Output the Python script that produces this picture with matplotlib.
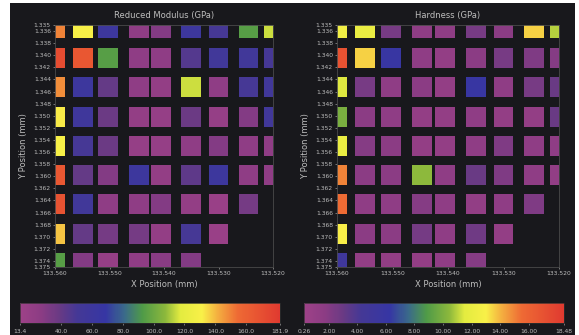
import numpy as np
import matplotlib
matplotlib.use("Agg")
import matplotlib.pyplot as plt
from matplotlib.colors import LinearSegmentedColormap, Normalize
from matplotlib.patches import Rectangle
from matplotlib.cm import ScalarMappable

# indent positions (mm)
x_pos = [133.5600, 133.5549, 133.5503, 133.5446, 133.5405, 133.5350, 133.5300, 133.5245, 133.5199]
y_pos = [1.3355, 1.3405, 1.3452, 1.3502, 1.3550, 1.3598, 1.3646, 1.3695, 1.3743]

nan = np.nan
# rows top -> bottom, columns left -> right
modulus = [
    [150, 130, 60, 25, 30, 60, 50, 95, 115],
    [172, 165, 95, 25, 25, 45, 55, 55, 50],
    [148, 60, 40, 25, 22, 115, 25, 50, 55],
    [132, 58, 38, 22, 20, 38, 20, 30, 55],
    [130, 50, 38, 20, 20, 25, 30, 25, 25],
    [165, 40, 30, 60, 22, 42, 60, 25, 25],
    [168, 55, 25, 25, 30, 22, 18, 35, nan],
    [138, 40, 35, 35, 22, 50, 18, nan, nan],
    [95, 30, 20, 25, 28, 30, nan, nan, nan],
]
hardness = [
    [12.5, 12.0, 2.5, 1.5, 1.5, 2.5, 1.8, 13.5, 11.0],
    [17.0, 13.5, 6.0, 1.5, 1.2, 1.8, 2.5, 2.2, 2.0],
    [11.5, 2.5, 1.5, 1.8, 1.2, 6.0, 1.5, 2.5, 3.0],
    [10.0, 1.8, 1.5, 1.2, 1.2, 1.5, 1.2, 1.2, 3.0],
    [12.0, 2.0, 1.8, 1.2, 1.2, 1.5, 2.2, 1.5, 1.5],
    [15.0, 1.8, 1.8, 10.5, 1.5, 3.0, 2.2, 1.5, 1.3],
    [15.5, 1.5, 1.5, 2.0, 1.5, 1.3, 1.5, 2.2, nan],
    [13.0, 1.8, 1.8, 2.6, 1.5, 2.8, 1.2, nan, nan],
    [5.0, 1.3, 1.3, 1.2, 1.5, 2.0, nan, nan, nan],
]

mod_range = (13.4, 181.9)
hard_range = (0.26, 18.48)
mod_ticks = [13.4, 40, 60, 80, 100, 120, 140, 160, 181.9]
mod_labels = ["13.4", "40.0", "60.0", "80.0", "100.0", "120.0", "140.0", "160.0", "181.9"]
hard_ticks = [0.26, 2, 4, 6, 8, 10, 12, 14, 16, 18.48]
hard_labels = ["0.26", "2.00", "4.00", "6.00", "8.00", "10.00", "12.00", "14.00", "16.00", "18.48"]

x_ticks = [133.560, 133.550, 133.540, 133.530, 133.520]
y_ticks = [1.335] + [round(1.336 + 0.002 * i, 3) for i in range(20)] + [1.375]

BG = "#18181c"
TXT = "#bdbdbd"

cmap = LinearSegmentedColormap.from_list("nano", [
    (0.00, "#9e4288"), (0.08, "#8c3c84"), (0.15, "#683a84"), (0.22, "#443896"),
    (0.33, "#3636a4"), (0.40, "#3a6a8a"), (0.47, "#4f9a48"), (0.56, "#8cb83c"),
    (0.62, "#e4ec40"), (0.70, "#f8f048"), (0.76, "#f4b040"), (0.84, "#ee6a34"),
    (1.00, "#e03a30"),
])


def draw_map(ax, values, vrange, title):
    norm = Normalize(*vrange)
    w, h = 0.0036, 0.0033
    for i, y in enumerate(y_pos):
        for j, x in enumerate(x_pos):
            v = values[i][j]
            if np.isnan(v):
                continue
            ax.add_patch(Rectangle((x + w / 2, y - h / 2), -w, h,
                                   facecolor=cmap(norm(v)), edgecolor="none"))
    ax.set_facecolor(BG)
    ax.set_xlim(133.560, 133.520)
    ax.set_ylim(1.375, 1.335)
    ax.set_xticks(x_ticks)
    ax.set_xticklabels([f"{t:.3f}" for t in x_ticks])
    ax.set_yticks(y_ticks)
    ax.set_yticklabels([f"{t:.3f}" for t in y_ticks])
    ax.tick_params(colors=TXT, labelsize=4.3, length=1.5, width=0.4, pad=1.5)
    for s in ax.spines.values():
        s.set_color("#4a4a4a")
        s.set_linewidth(0.6)
    ax.set_title(title, color=TXT, fontsize=6, pad=5)
    ax.set_xlabel("X Position (mm)", color=TXT, fontsize=6, labelpad=3)
    ax.set_ylabel("Y Position (mm)", color=TXT, fontsize=6, labelpad=4)


def draw_bar(fig, rect, vrange, ticks, labels):
    cax = fig.add_axes(rect)
    sm = ScalarMappable(norm=Normalize(*vrange), cmap=cmap)
    cb = fig.colorbar(sm, cax=cax, orientation="horizontal")
    cb.set_ticks(ticks)
    cb.set_ticklabels(labels)
    cb.outline.set_edgecolor("#303030")
    cb.outline.set_linewidth(0.5)
    cax.tick_params(colors=TXT, labelsize=4.3, length=1.5, width=0.4, pad=3)


fig = plt.figure(figsize=(5.79, 3.35), dpi=100)
fig.patch.set_facecolor("white")
fig.patches.append(Rectangle((10 / 579, 0), 565 / 579, 332 / 335,
                             transform=fig.transFigure, facecolor=BG,
                             edgecolor="none", zorder=-1))

ax1 = fig.add_axes([55 / 579, 68 / 335, 218 / 579, 242 / 335])
ax2 = fig.add_axes([337 / 579, 68 / 335, 222 / 579, 242 / 335])
draw_map(ax1, modulus, mod_range, "Reduced Modulus (GPa)")
draw_map(ax2, hardness, hard_range, "Hardness (GPa)")

draw_bar(fig, [20 / 579, 12 / 335, 260 / 579, 20 / 335], mod_range, mod_ticks, mod_labels)
draw_bar(fig, [304 / 579, 12 / 335, 260 / 579, 20 / 335], hard_range, hard_ticks, hard_labels)

fig.savefig("out.png", dpi=100, facecolor=fig.get_facecolor())
